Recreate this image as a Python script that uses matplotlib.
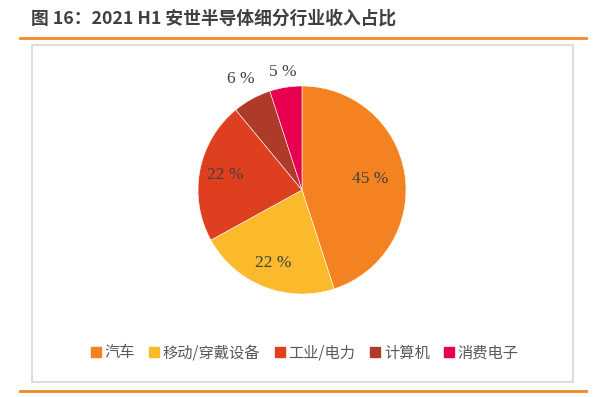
import matplotlib
matplotlib.use("Agg")
import matplotlib.pyplot as plt
import numpy as np
from matplotlib.lines import Line2D
from matplotlib.patches import Rectangle

plt.rcParams['font.family'] = ['Noto Sans CJK SC', 'DejaVu Sans']

# 数据
categories = ['汽车', '移动/穿戴设备', '工业/电力', '计算机', '消费电子']
shares = [45, 22, 22, 6, 5]
pct_labels = ['45 %', '22 %', '22 %', '6 %', '5 %']
colors = ['#F58220', '#FBBA2B', '#DE3F1E', '#B03A2A', '#E6004F']
label_dist = [0.66, 0.76, 0.75, 1.22, 1.15]

W, H = 609, 397
fig = plt.figure(figsize=(W / 100, H / 100), dpi=100)

# 标题 + 橙色分隔线
fig.text(31 / W, 1 - 19 / H, '图 16：2021 H1 安世半导体细分行业收入占比',
         fontsize=12.8, fontweight='bold', color='#404040', va='center', ha='left')
fig.add_artist(Line2D([20 / W, 586 / W], [1 - 38 / H, 1 - 38 / H],
                      color='#F08A24', lw=2))
fig.add_artist(Line2D([20 / W, 586 / W], [1 - 391 / H, 1 - 391 / H],
                      color='#F08A24', lw=2))
# 灰色边框
fig.add_artist(Rectangle((32 / W, 1 - 382 / H), (573 - 32) / W, (382 - 45) / H,
                         transform=fig.transFigure, fill=False,
                         edgecolor='#D9D9D9', lw=1.3))

# 饼图
cx, cy, r = 302, 190, 104
ax = fig.add_axes([(cx - r) / W, (H - cy - r) / H, 2 * r / W, 2 * r / H])
wedges, _ = ax.pie(shares, colors=colors, startangle=90, counterclock=False,
                   radius=1, wedgeprops=dict(edgecolor='white', linewidth=0.4))
ax.set_xlim(-1, 1)
ax.set_ylim(-1, 1)
ax.set_aspect('equal')
ax.axis('off')

for w, lab, d in zip(wedges, pct_labels, label_dist):
    ang = np.deg2rad((w.theta1 + w.theta2) / 2)
    ax.text(d * np.cos(ang), d * np.sin(ang), lab, ha='center', va='center',
            fontsize=12.5, color='#404040', family='Liberation Serif')

handles = [Line2D([], [], marker='s', linestyle='', markersize=6.5,
                  markerfacecolor=c, markeredgecolor=c) for c in colors]
fig.legend(handles, categories, loc='center', bbox_to_anchor=(305 / W, 1 - 353 / H),
           ncol=5, frameon=False, fontsize=11, handlelength=0.6, handletextpad=0.25,
           columnspacing=1.0, labelcolor='#595959')

fig.savefig('out.png', dpi=100)
